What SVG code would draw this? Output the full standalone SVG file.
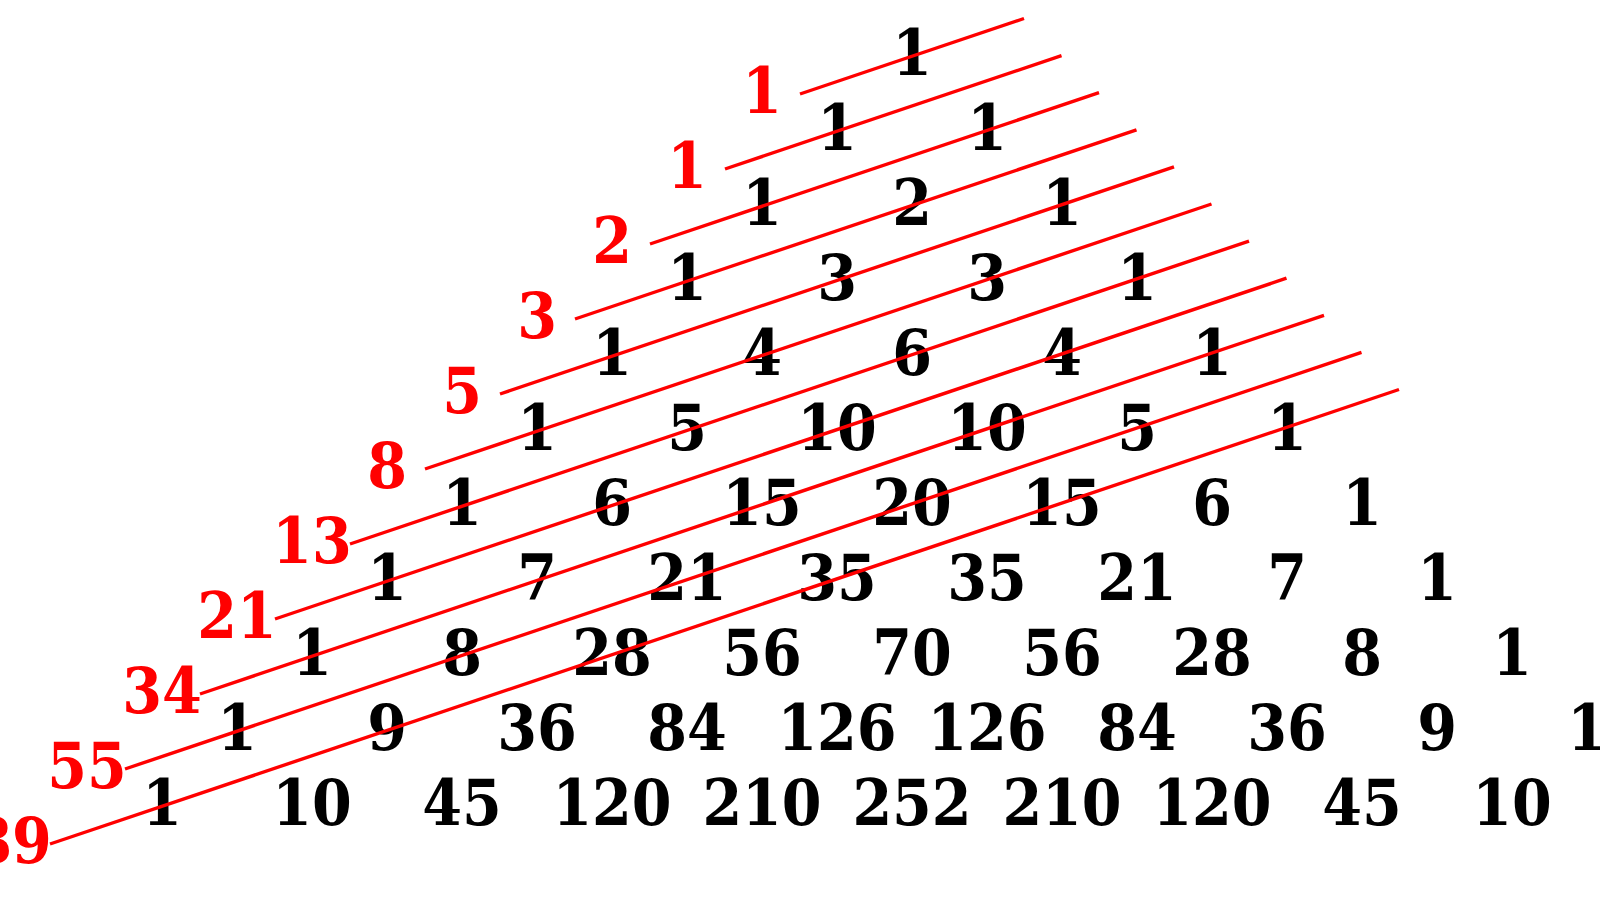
<svg xmlns="http://www.w3.org/2000/svg" width="1600" height="900" viewBox="0 0 1600 900">
<style>
text{font-family:"DejaVu Serif Condensed","DejaVu Serif","Liberation Serif",serif;font-stretch:condensed;font-weight:bold;font-size:63.5px;text-anchor:middle}
.n{fill:#000}
.f{fill:#ff0000}
line{stroke:#ff0000;stroke-width:3.4;stroke-linecap:butt}
</style>
<rect width="1600" height="900" fill="#fff"/>
<g id="pascal">
<g id="r0"><text class="n" x="912" y="75">1</text></g>
<g id="r1"><text class="n" x="837" y="150">1</text><text class="n" x="987" y="150">1</text></g>
<g id="r2"><text class="n" x="762" y="225">1</text><text class="n" x="912" y="225">2</text><text class="n" x="1062" y="225">1</text></g>
<g id="r3"><text class="n" x="687" y="300">1</text><text class="n" x="837" y="300">3</text><text class="n" x="987" y="300">3</text><text class="n" x="1137" y="300">1</text></g>
<g id="r4"><text class="n" x="612" y="375">1</text><text class="n" x="762" y="375">4</text><text class="n" x="912" y="375">6</text><text class="n" x="1062" y="375">4</text><text class="n" x="1212" y="375">1</text></g>
<g id="r5"><text class="n" x="537" y="450">1</text><text class="n" x="687" y="450">5</text><text class="n" x="837" y="450">10</text><text class="n" x="987" y="450">10</text><text class="n" x="1137" y="450">5</text><text class="n" x="1287" y="450">1</text></g>
<g id="r6"><text class="n" x="462" y="525">1</text><text class="n" x="612" y="525">6</text><text class="n" x="762" y="525">15</text><text class="n" x="912" y="525">20</text><text class="n" x="1062" y="525">15</text><text class="n" x="1212" y="525">6</text><text class="n" x="1362" y="525">1</text></g>
<g id="r7"><text class="n" x="387" y="600">1</text><text class="n" x="537" y="600">7</text><text class="n" x="687" y="600">21</text><text class="n" x="837" y="600">35</text><text class="n" x="987" y="600">35</text><text class="n" x="1137" y="600">21</text><text class="n" x="1287" y="600">7</text><text class="n" x="1437" y="600">1</text></g>
<g id="r8"><text class="n" x="312" y="675">1</text><text class="n" x="462" y="675">8</text><text class="n" x="612" y="675">28</text><text class="n" x="762" y="675">56</text><text class="n" x="912" y="675">70</text><text class="n" x="1062" y="675">56</text><text class="n" x="1212" y="675">28</text><text class="n" x="1362" y="675">8</text><text class="n" x="1512" y="675">1</text></g>
<g id="r9"><text class="n" x="237" y="750">1</text><text class="n" x="387" y="750">9</text><text class="n" x="537" y="750">36</text><text class="n" x="687" y="750">84</text><text class="n" x="837" y="750">126</text><text class="n" x="987" y="750">126</text><text class="n" x="1137" y="750">84</text><text class="n" x="1287" y="750">36</text><text class="n" x="1437" y="750">9</text><text class="n" x="1587" y="750">1</text></g>
<g id="r10"><text class="n" x="162" y="825">1</text><text class="n" x="312" y="825">10</text><text class="n" x="462" y="825">45</text><text class="n" x="612" y="825">120</text><text class="n" x="762" y="825">210</text><text class="n" x="912" y="825">252</text><text class="n" x="1062" y="825">210</text><text class="n" x="1212" y="825">120</text><text class="n" x="1362" y="825">45</text><text class="n" x="1512" y="825">10</text></g>
</g>
<g id="fibonacci">
<g id="f0"><text class="f" x="762" y="112.5">1</text></g>
<g id="f1"><text class="f" x="687" y="187.5">1</text></g>
<g id="f2"><text class="f" x="612" y="262.5">2</text></g>
<g id="f3"><text class="f" x="537" y="337.5">3</text></g>
<g id="f4"><text class="f" x="462" y="412.5">5</text></g>
<g id="f5"><text class="f" x="387" y="487.5">8</text></g>
<g id="f6"><text class="f" x="312" y="562.5">13</text></g>
<g id="f7"><text class="f" x="237" y="637.5">21</text></g>
<g id="f8"><text class="f" x="162" y="712.5">34</text></g>
<g id="f9"><text class="f" x="87" y="787.5">55</text></g>
<g id="f10"><text class="f" x="12" y="862.5">89</text></g>
</g>
<g id="connectors">
<line x1="800" y1="94" x2="1024" y2="18.5"/>
<line x1="725" y1="169" x2="1061.5" y2="55.6"/>
<line x1="650" y1="244" x2="1099" y2="92.7"/>
<line x1="575" y1="319" x2="1136.5" y2="129.8"/>
<line x1="500" y1="394" x2="1174" y2="166.9"/>
<line x1="425" y1="469" x2="1211.5" y2="204"/>
<line x1="350" y1="544" x2="1249" y2="241.1"/>
<line x1="275" y1="619" x2="1286.5" y2="278.2"/>
<line x1="200" y1="694" x2="1324" y2="315.3"/>
<line x1="125" y1="769" x2="1361.5" y2="352.4"/>
<line x1="50" y1="844" x2="1399" y2="389.5"/>
</g>
</svg>
